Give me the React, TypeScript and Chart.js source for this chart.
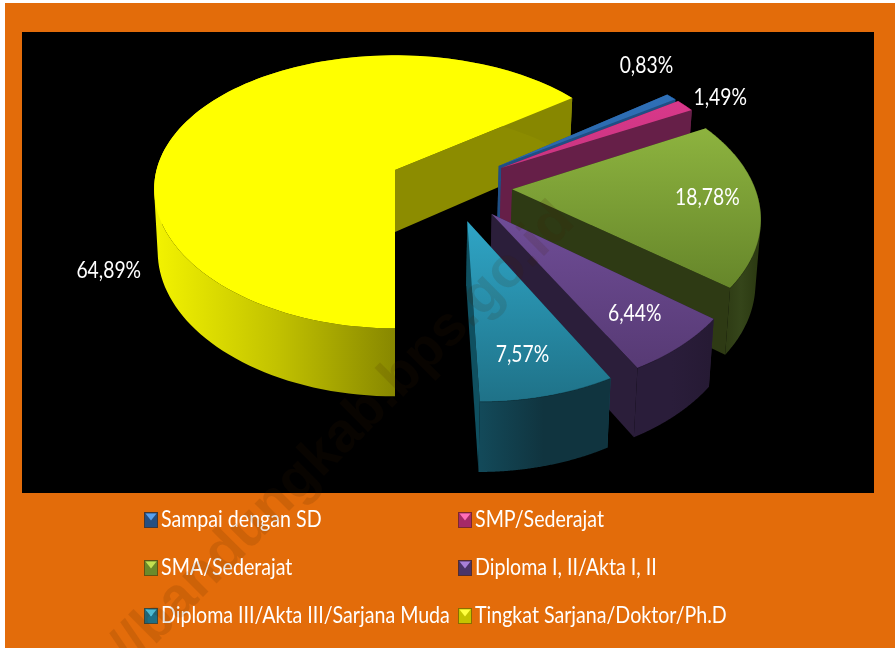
import React, { useEffect, useRef } from "react";
import { Chart, registerables } from "chart.js";

Chart.register(...registerables);

const categories = [
  "Sampai dengan SD",
  "SMP/Sederajat",
  "SMA/Sederajat",
  "Diploma I, II/Akta I, II",
  "Diploma III/Akta III/Sarjana Muda",
  "Tingkat Sarjana/Doktor/Ph.D",
];
const shares = [0.83, 1.49, 18.78, 6.44, 7.57, 64.89];
const valueLabels = ["0,83%", "1,49%", "18,78%", "6,44%", "7,57%", "64,89%"];

const topLight = ["#2f70b8", "#d9388a", "#8db33f", "#6f4d97", "#2fa5c6", "#ffff00"];
const topDark = ["#2a66a8", "#c93480", "#66862a", "#573a74", "#1f7288", "#ffff00"];
const wallLeft = ["#1f4f85", "#661f48", "#2e3b14", "#2a1d3a", "#134a5a", "#f2f200"];
const wallMid = ["#1f4f85", "#661f48", "#35451a", "#2a1d3a", "#10343f", "#c2c200"];
const wallRight = ["#1f4f85", "#661f48", "#2c3a12", "#261a34", "#10343f", "#878700"];
const edgeWall = ["#1f4f85", "#661f48", "#2e3a14", "#2b1e3a", "#0f5060", "#8c8c00"];
const iconDark = ["#264f82", "#a52a68", "#6b8a2a", "#4a3468", "#1f6f85", "#c4c400"];
const iconLight = ["#5aa0ee", "#ff6fb8", "#c4e050", "#a880d8", "#50d0f0", "#ffff40"];

const labelShiftX = [-25, 35, -52, -46, -26, -86];
const labelShiftY = [-31, -8, -6, -32, -41, 157];

const FONT = "Lato, sans-serif";
const EXPLODE = 0.255;
const VIEW = { x: 395, y: 170, sx: 238.5, sy: 133, kx: 0.14, ky: 0.16, uo: 0.2276, vo: 0.115 };

type Pt = { x: number; y: number };

function project(u: number, v: number, bottom: boolean): Pt {
  const up = u + VIEW.uo;
  const vp = v + VIEW.vo;
  let x = VIEW.x + (VIEW.sx * up) / (1 - VIEW.kx * vp);
  let y = VIEW.y + (VIEW.sy * vp) / (1 - VIEW.ky * vp);
  if (bottom) {
    x = VIEW.x + (x - VIEW.x) * 0.985;
    y += 62 + 6 * vp;
  }
  return { x, y };
}

function trace(ctx: CanvasRenderingContext2D, pts: Pt[]) {
  ctx.beginPath();
  pts.forEach((p, i) => (i ? ctx.lineTo(p.x, p.y) : ctx.moveTo(p.x, p.y)));
  ctx.closePath();
}

function squeezedText(ctx: CanvasRenderingContext2D, text: string, x: number, y: number, sq: number) {
  ctx.save();
  ctx.translate(x, y);
  ctx.scale(sq, 1);
  ctx.fillText(text, 0, 0);
  ctx.restore();
}

const pie3d = {
  id: "pie3d",
  beforeDatasetsDraw(chart: any) {
    const { ctx } = chart;
    const arcs = chart.getDatasetMeta(0).data as any[];
    const order = [5, 0, 1, 2, 3, 4];
    ctx.save();
    ctx.fillStyle = "#000000";
    ctx.fillRect(22, 32, 852, 461);
    order.forEach((i) => {
      const el = arcs[i];
      const mid = (el.startAngle + el.endAngle) / 2;
      const cu = EXPLODE * Math.cos(mid);
      const cv = EXPLODE * Math.sin(mid);
      const steps = 120;
      const angs: number[] = [];
      for (let s = 0; s <= steps; s++) angs.push(el.startAngle + ((el.endAngle - el.startAngle) * s) / steps);
      const top = angs.map((a) => project(cu + Math.cos(a), cv + Math.sin(a), false));
      const bot = angs.map((a) => project(cu + Math.cos(a), cv + Math.sin(a), true));
      const aT = project(cu, cv, false);
      const aB = project(cu, cv, true);
      trace(ctx, [aT, top[0], bot[0], aB]);
      ctx.fillStyle = edgeWall[i];
      ctx.fill();
      trace(ctx, [aT, top[steps], bot[steps], aB]);
      ctx.fill();
      // outer wall: only the front-facing part sets the shading range
      const front = bot.filter((p) => p.y > aB.y);
      const xs = (front.length > 1 ? front : bot).map((p) => p.x);
      const gr = ctx.createLinearGradient(Math.min(...xs), 0, Math.max(...xs) + 1, 0);
      gr.addColorStop(0, wallLeft[i]);
      gr.addColorStop(0.5, wallMid[i]);
      gr.addColorStop(1, wallRight[i]);
      // one path of equally wound quads, so the fold at the silhouette leaves no hole or seam
      ctx.beginPath();
      for (let s = 0; s < steps; s++) {
        let q = [top[s], top[s + 1], bot[s + 1], bot[s]];
        let area = 0;
        q.forEach((p, n) => {
          const r = q[(n + 1) % 4];
          area += p.x * r.y - r.x * p.y;
        });
        if (area < 0) q = q.slice().reverse();
        q.forEach((p, n) => (n ? ctx.lineTo(p.x, p.y) : ctx.moveTo(p.x, p.y)));
        ctx.closePath();
      }
      ctx.fillStyle = gr;
      ctx.fill();
      const ys = top.map((p) => p.y).concat(aT.y);
      const gt = ctx.createLinearGradient(0, Math.min(...ys), 0, Math.max(...ys));
      gt.addColorStop(0, topLight[i]);
      gt.addColorStop(1, topDark[i]);
      trace(ctx, [aT, ...top]);
      ctx.fillStyle = gt;
      ctx.fill();
      if (i !== 5) {
        ctx.beginPath();
        top.forEach((p, n) => (n ? ctx.lineTo(p.x, p.y) : ctx.moveTo(p.x, p.y)));
        ctx.strokeStyle = "rgba(0,0,0,0.18)";
        ctx.lineWidth = 1;
        ctx.stroke();
      }
    });
    // value labels
    ctx.font = `23px ${FONT}`;
    ctx.fillStyle = "#ffffff";
    ctx.textAlign = "center";
    ctx.textBaseline = "middle";
    arcs.forEach((el, i) => {
      const mid = (el.startAngle + el.endAngle) / 2;
      const p = project((EXPLODE + 1) * Math.cos(mid), (EXPLODE + 1) * Math.sin(mid), false);
      squeezedText(ctx, valueLabels[i], p.x + labelShiftX[i], p.y + labelShiftY[i], 0.84);
    });
    // legend
    const colX = [144, 458];
    const rowY = [520, 568, 616];
    ctx.textAlign = "left";
    ctx.font = `24px ${FONT}`;
    categories.forEach((name, i) => {
      const cx = colX[i % 2];
      const cy = rowY[Math.floor(i / 2)];
      ctx.fillStyle = iconDark[i];
      ctx.fillRect(cx, cy - 8, 14, 16);
      ctx.strokeStyle = "rgba(90,40,0,0.55)";
      ctx.lineWidth = 1;
      ctx.strokeRect(cx + 0.5, cy - 7.5, 13, 15);
      ctx.beginPath();
      ctx.moveTo(cx + 1.5, cy - 6.5);
      ctx.lineTo(cx + 12.5, cy - 6.5);
      ctx.lineTo(cx + 7, cy + 0.5);
      ctx.closePath();
      ctx.fillStyle = iconLight[i];
      ctx.fill();
      ctx.fillStyle = "#ffffff";
      squeezedText(ctx, name, cx + 17, cy - 1, 0.817);
    });
    // watermark across everything
    ctx.save();
    ctx.translate(132, 668);
    ctx.rotate(-Math.PI / 4);
    ctx.font = `bold 56px "Liberation Sans", sans-serif`;
    ctx.fillStyle = "rgba(60,30,0,0.13)";
    ctx.textAlign = "left";
    ctx.textBaseline = "alphabetic";
    ctx.fillText("//bandungkab.bps.go.id", 0, 0);
    ctx.restore();
    ctx.restore();
    return false;
  },
};

export default function App() {
  const ref = useRef<HTMLCanvasElement>(null);
  useEffect(() => {
    const chart = new Chart(ref.current as HTMLCanvasElement, {
      type: "pie",
      data: {
        labels: categories,
        datasets: [{ data: shares, backgroundColor: topLight, borderWidth: 0 }],
      },
      options: {
        responsive: false,
        animation: false,
        rotation: 53.6,
        plugins: { legend: { display: false }, tooltip: { enabled: false } },
      },
      plugins: [pie3d],
    } as any);
    return () => chart.destroy();
  }, []);
  return (
    <div style={{ position: "absolute", left: 0, top: 0, width: 895, height: 648, background: "#ffffff", overflow: "hidden" }}>
      <div style={{ position: "absolute", left: 5, top: 3, width: 890, height: 645, background: "#E36C0A" }} />
      <canvas ref={ref} width={895} height={648} style={{ position: "absolute", left: 0, top: 0, display: "block" }} />
    </div>
  );
}
